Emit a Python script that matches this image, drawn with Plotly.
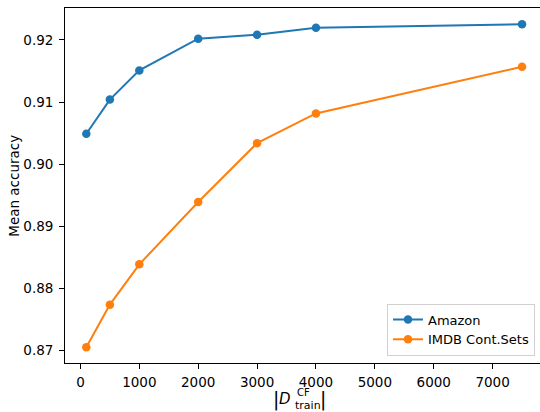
import plotly.graph_objects as go

train_sizes = [100, 500, 1000, 2000, 3000, 4000, 7500]
amazon_acc = [0.9049, 0.9104, 0.9151, 0.9202, 0.92085, 0.92198, 0.92252]
imdb_acc = [0.8705, 0.87737, 0.88386, 0.8939, 0.90338, 0.90816, 0.91568]
series_names = ["Amazon", "IMDB Cont.Sets"]
series_colors = ["#1f77b4", "#ff7f0e"]
y_ticks = [0.87, 0.88, 0.89, 0.90, 0.91, 0.92]
x_ticks = [0, 1000, 2000, 3000, 4000, 5000, 6000, 7000]

W, H = 540, 412
ML, MR, MT, MB = 65, 0, 8, 48.5
FONT = "DejaVu Sans"
FS = 13.5

fig = go.Figure()
for name, vals, col in zip(series_names, [amazon_acc, imdb_acc], series_colors):
    fig.add_trace(go.Scatter(
        x=train_sizes, y=vals, name=name, mode="lines+markers",
        line=dict(color=col, width=2),
        marker=dict(color=col, size=8.5),
    ))

def px(xp):
    return (xp - ML) / (W - ML - MR)

def py(yp):
    return (H - MB - yp) / (H - MT - MB)

annots = [
    dict(text="|", x=px(276), y=py(400.5), xanchor="center", yanchor="middle",
         font=dict(size=19, family=FONT, color="black")),
    dict(text="<i>D</i>", x=px(277.5), y=py(400), xanchor="left", yanchor="middle",
         font=dict(size=15, family=FONT, color="black")),
    dict(text="CF", x=px(296), y=py(393.5), xanchor="left", yanchor="middle",
         font=dict(size=10, family=FONT, color="black")),
    dict(text="train", x=px(294), y=py(406.5), xanchor="left", yanchor="middle",
         font=dict(size=11, family=FONT, color="black")),
    dict(text="|", x=px(322.5), y=py(400.5), xanchor="center", yanchor="middle",
         font=dict(size=19, family=FONT, color="black")),
    dict(text="Mean accuracy", x=px(14), y=py(186), xanchor="center", yanchor="middle",
         textangle=-90, font=dict(size=FS, family=FONT, color="black")),
]
for a in annots:
    a.update(xref="paper", yref="paper", showarrow=False, borderpad=0)

fig.update_layout(
    width=W, height=H,
    margin=dict(l=ML, r=MR, t=MT, b=MB, pad=0),
    paper_bgcolor="white", plot_bgcolor="white",
    font=dict(family=FONT, size=FS, color="black"),
    showlegend=True,
    legend=dict(
        x=px(535), y=py(356), xanchor="right", yanchor="bottom",
        bordercolor="#d0d0d0", borderwidth=1, bgcolor="rgba(255,255,255,0.8)",
        font=dict(size=13, family=FONT, color="black"),
        itemwidth=30, tracegroupgap=0,
    ),
    annotations=annots,
    xaxis=dict(
        range=[-262, 7805], tickvals=x_ticks, ticktext=[str(v) for v in x_ticks],
        showgrid=False, zeroline=False, showline=True, linecolor="black", linewidth=1,
        mirror=True, ticks="outside", ticklen=4.9, tickwidth=1, tickcolor="black",
        ticklabelstandoff=2,
        tickfont=dict(size=FS, family=FONT, color="black"),
    ),
    yaxis=dict(
        range=[0.86797, 0.92515], tickvals=y_ticks, ticktext=[f"{v:.2f}" for v in y_ticks],
        showgrid=False, zeroline=False, showline=True, linecolor="black", linewidth=1,
        mirror=False, ticks="outside", ticklen=4.9, tickwidth=1, tickcolor="black",
        ticklabelstandoff=3,
        tickfont=dict(size=FS, family=FONT, color="black"),
    ),
)

fig.write_html("out.html", config={"displayModeBar": False},
               post_script="document.body.style.margin='0';document.body.style.overflow='hidden';")
